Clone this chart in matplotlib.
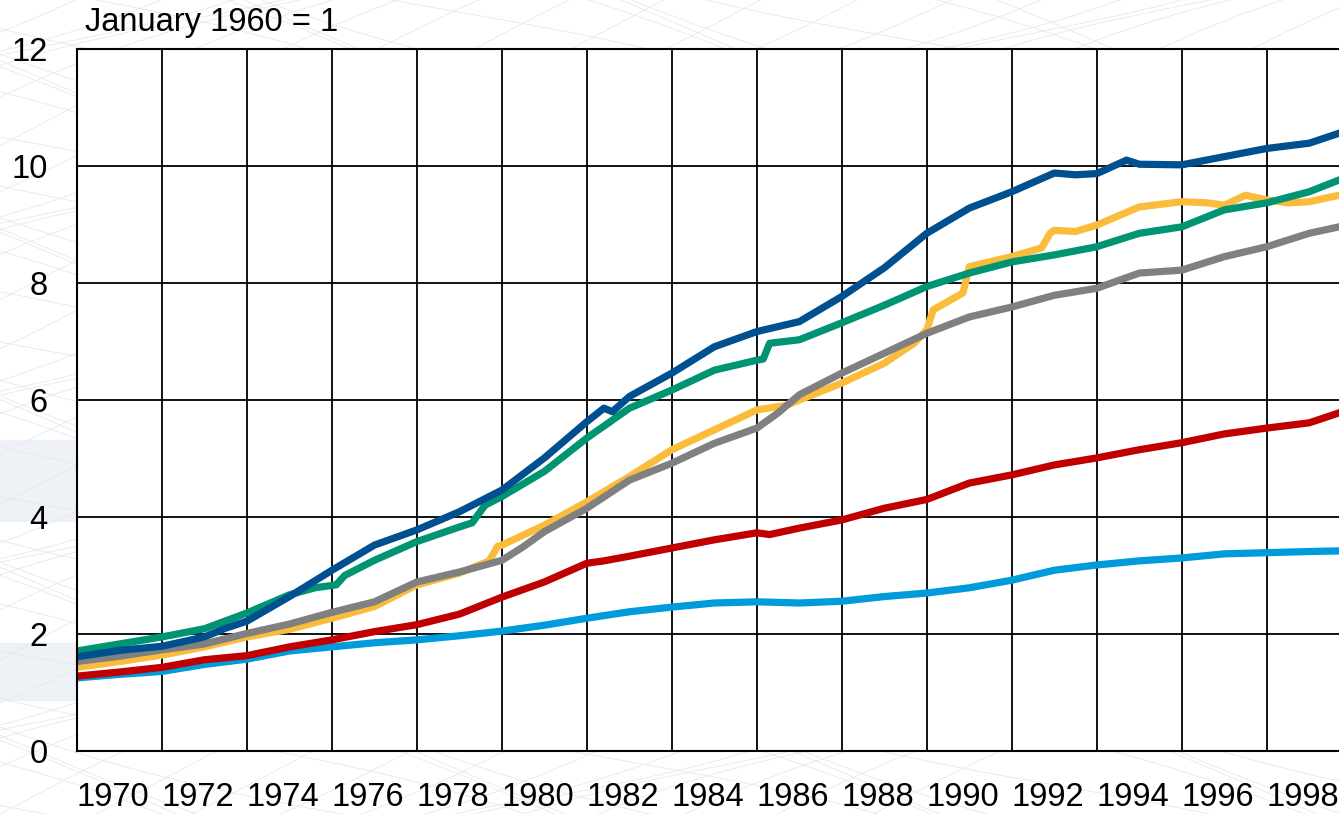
import matplotlib.pyplot as plt
import numpy as np

plt.rcParams['font.family'] = ['Liberation Sans', 'DejaVu Sans']

# values, index January 1960 = 1
navy_x = [1970, 1971, 1972, 1973, 1973.5, 1974, 1975, 1976, 1977, 1978, 1979, 1980, 1981, 1982,
          1982.4, 1982.6, 1983, 1984, 1985, 1986, 1987, 1988, 1989, 1990, 1991, 1992, 1993,
          1993.5, 1994, 1994.7, 1995, 1996, 1997, 1998, 1999, 1999.7]
navy_y = [1.61, 1.72, 1.79, 1.95, 2.10, 2.22, 2.64, 3.09, 3.52, 3.78, 4.09, 4.46, 5.01, 5.63,
          5.86, 5.80, 6.06, 6.46, 6.91, 7.17, 7.34, 7.77, 8.26, 8.85, 9.28, 9.56, 9.88,
          9.85, 9.87, 10.10, 10.03, 10.02, 10.16, 10.30, 10.39, 10.56]

green_x = [1970, 1971, 1972, 1973, 1974, 1975, 1975.6, 1976.1, 1976.3, 1977, 1978, 1979, 1979.3,
           1979.6, 1980, 1981, 1982, 1983, 1984, 1985, 1986, 1986.15, 1986.3, 1987, 1988, 1989,
           1990, 1991, 1992, 1993, 1994, 1995, 1996, 1997, 1998, 1999, 1999.7]
green_y = [1.71, 1.83, 1.95, 2.09, 2.36, 2.67, 2.79, 2.84, 3.00, 3.26, 3.58, 3.83, 3.90,
           4.20, 4.35, 4.78, 5.35, 5.86, 6.17, 6.51, 6.68, 6.70, 6.97, 7.03, 7.32, 7.62,
           7.94, 8.17, 8.36, 8.48, 8.62, 8.85, 8.96, 9.25, 9.37, 9.56, 9.76]

yellow_x = [1970, 1971, 1972, 1973, 1974, 1975, 1976, 1977, 1978, 1979, 1979.7, 1979.9, 1980,
            1981, 1982, 1983, 1984, 1985, 1986, 1986.7, 1987, 1988, 1989, 1989.7, 1990, 1990.15,
            1990.85, 1991, 1992, 1992.7, 1992.9, 1993, 1993.5, 1994, 1995, 1996, 1996.6, 1997,
            1997.5, 1998, 1998.5, 1999, 1999.7]
yellow_y = [1.43, 1.53, 1.64, 1.78, 1.95, 2.08, 2.27, 2.47, 2.84, 3.04, 3.25, 3.50, 3.52,
            3.86, 4.26, 4.69, 5.15, 5.49, 5.83, 5.91, 6.00, 6.29, 6.63, 6.97, 7.20, 7.54,
            7.83, 8.28, 8.45, 8.60, 8.85, 8.90, 8.88, 8.99, 9.30, 9.39, 9.37, 9.33,
            9.50, 9.42, 9.37, 9.39, 9.50]

grey_x = [1970, 1971, 1972, 1973, 1974, 1975, 1976, 1977, 1978, 1979, 1980, 1980.5, 1981, 1982,
          1983, 1984, 1985, 1986, 1986.5, 1987, 1988, 1989, 1990, 1991, 1992, 1993, 1994, 1995,
          1996, 1997, 1998, 1999, 1999.7]
grey_y = [1.53, 1.62, 1.73, 1.83, 2.01, 2.17, 2.37, 2.55, 2.89, 3.06, 3.26, 3.49, 3.75, 4.15,
          4.63, 4.92, 5.26, 5.52, 5.78, 6.09, 6.46, 6.80, 7.14, 7.42, 7.59, 7.79, 7.91, 8.17,
          8.22, 8.45, 8.62, 8.85, 8.96]

red_x = [1970, 1971, 1972, 1973, 1974, 1975, 1976, 1977, 1978, 1979, 1980, 1981, 1982, 1982.4,
         1983, 1984, 1985, 1986, 1986.3, 1987, 1988, 1989, 1990, 1991, 1992, 1993, 1994, 1995,
         1996, 1997, 1998, 1999, 1999.7]
red_y = [1.28, 1.35, 1.43, 1.56, 1.63, 1.78, 1.90, 2.04, 2.16, 2.34, 2.63, 2.89, 3.21, 3.25,
         3.33, 3.47, 3.61, 3.73, 3.70, 3.81, 3.95, 4.15, 4.30, 4.58, 4.72, 4.89, 5.01, 5.15,
         5.27, 5.42, 5.52, 5.61, 5.78]

cyan_x = [1970, 1971, 1972, 1973, 1974, 1975, 1976, 1977, 1978, 1979, 1980, 1981, 1982, 1983,
          1984, 1985, 1986, 1987, 1988, 1989, 1990, 1991, 1992, 1993, 1994, 1995, 1996, 1997,
          1998, 1999, 1999.7]
cyan_y = [1.25, 1.31, 1.36, 1.48, 1.57, 1.71, 1.78, 1.85, 1.90, 1.97, 2.05, 2.15, 2.27, 2.38,
          2.46, 2.53, 2.55, 2.53, 2.56, 2.64, 2.70, 2.79, 2.92, 3.09, 3.18, 3.25, 3.30, 3.37,
          3.39, 3.41, 3.42]

year_ticks = list(range(1970, 2000, 2))
value_ticks = list(range(0, 13, 2))

fig = plt.figure(figsize=(13.39, 8.14), dpi=100)
fig.patch.set_facecolor('white')

# faint mesh in the background
bg = fig.add_axes([0, 0, 1, 1], zorder=-5)
bg.set_xlim(0, 1)
bg.set_ylim(0, 1)
bg.axis('off')
bg.axhspan(0.36, 0.46, xmin=0, xmax=0.06, color='#eef1f5')
bg.axhspan(0.14, 0.21, xmin=0, xmax=0.06, color='#eef1f5')
t = np.linspace(0, 1, 400)
for k in range(-12, 36):
    c = k * 0.033
    bg.plot(t, c + 0.6 * t + 0.03 * np.sin(9 * t + k), color='#e3e9f0', lw=0.6)
    bg.plot(t, c + 0.2 - 0.5 * t + 0.03 * np.sin(7 * t + k), color='#e3e9f0', lw=0.6)

ax = fig.add_axes([77 / 1339, 63 / 814, 1 - 77 / 1339, (751 - 49) / 814])
ax.set_facecolor('white')

lw = 5.2
ax.plot(cyan_x, cyan_y, color='#009bdb', lw=lw)
ax.plot(red_x, red_y, color='#c00000', lw=lw)
ax.plot(yellow_x, yellow_y, color='#fbbc3c', lw=lw)
ax.plot(grey_x, grey_y, color='#808080', lw=lw)
ax.plot(green_x, green_y, color='#009473', lw=lw)
ax.plot(navy_x, navy_y, color='#00508f', lw=lw)

ax.set_xlim(1970, 1999.7)
ax.set_ylim(0, 12)
ax.set_xticks(year_ticks)
ax.set_xticklabels([str(y) for y in year_ticks], ha='left')
ax.set_yticks(value_ticks)
ax.grid(True, color='black', lw=1.3)
ax.set_axisbelow(True)
ax.tick_params(axis='both', length=0, labelsize=23.5)
ax.tick_params(axis='x', pad=22)
ax.tick_params(axis='y', pad=21)
for side in ['left', 'bottom', 'top']:
    ax.spines[side].set_color('black')
    ax.spines[side].set_linewidth(1.5)
ax.spines['right'].set_visible(False)

fig.text(85 / 1339, 1 - 23 / 814, 'January 1960 = 1', fontsize=23.5, ha='left', va='center')

plt.savefig('out.png', dpi=100)
